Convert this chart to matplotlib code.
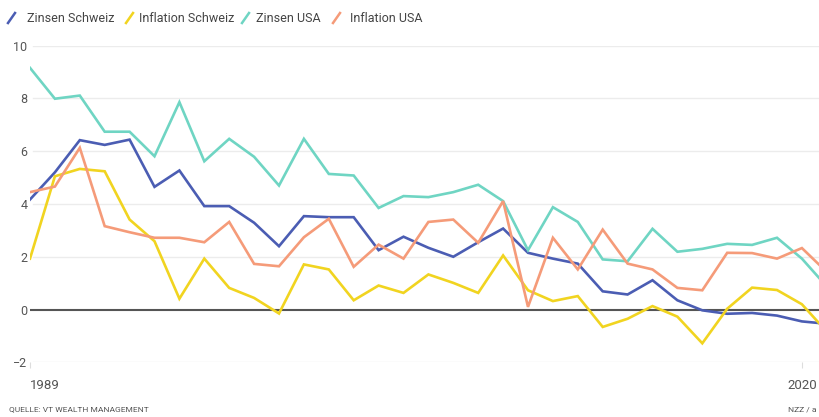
import matplotlib
matplotlib.use("Agg")
import matplotlib.pyplot as plt
from matplotlib.lines import Line2D

plt.rcParams['font.family'] = ['Roboto', 'DejaVu Sans']

years = list(range(1989, 2022))

zinsen_ch = [4.17, 5.2, 6.42, 6.24, 6.44, 4.65, 5.27, 3.92, 3.92, 3.29, 2.40, 3.54, 3.50,
             3.50, 2.25, 2.76, 2.34, 2.00, 2.55, 3.07, 2.15, 1.93, 1.74, 0.69, 0.57,
             1.11, 0.35, -0.03, -0.16, -0.13, -0.23, -0.45, -0.54]
inflation_ch = [1.93, 5.05, 5.33, 5.24, 3.41, 2.59, 0.41, 1.93, 0.82, 0.44, -0.15, 1.71, 1.52,
                0.35, 0.91, 0.63, 1.33, 1.01, 0.63, 2.05, 0.73, 0.32, 0.51, -0.66, -0.35,
                0.13, -0.27, -1.28, 0.03, 0.83, 0.74, 0.20, -0.84]
zinsen_usa = [9.16, 7.99, 8.11, 6.74, 6.74, 5.81, 7.86, 5.62, 6.47, 5.79, 4.70, 6.47, 5.14,
              5.08, 3.85, 4.30, 4.26, 4.45, 4.73, 4.11, 2.25, 3.88, 3.32, 1.90, 1.83,
              3.06, 2.19, 2.30, 2.49, 2.45, 2.72, 1.93, 0.87]
inflation_usa = [4.45, 4.66, 6.13, 3.16, 2.93, 2.72, 2.72, 2.55, 3.32, 1.73, 1.64, 2.74, 3.44,
                 1.62, 2.46, 1.93, 3.32, 3.41, 2.53, 4.11, 0.10, 2.72, 1.52, 3.03, 1.74,
                 1.52, 0.82, 0.73, 2.15, 2.14, 1.93, 2.33, 1.42]

names = ["Zinsen Schweiz", "Inflation Schweiz", "Zinsen USA", "Inflation USA"]
colors = ["#4b5db3", "#f1d420", "#6fd5c3", "#f59b79"]
series = [zinsen_ch, inflation_ch, zinsen_usa, inflation_usa]

fig = plt.figure(figsize=(8.19, 4.17), dpi=100)
ax = fig.add_axes([30 / 819, 1 - 362.3 / 417, 1 - 30 / 819, (362.3 - 45.7) / 417])

for y in [-2, 2, 4, 6, 8, 10]:
    ax.axhline(y, xmin=3 / 789, color="#ececec", lw=1, zorder=0)
ax.axhline(0, color="#555555", lw=1.5, zorder=1)

for vals, c in zip(series, colors):
    ax.plot(years, vals, color=c, lw=1.9, zorder=3, solid_joinstyle="miter")

ax.set_xlim(1989, 1989 + (819 - 30) / 24.9)
ax.set_ylim(-2, 10)
for s in ax.spines.values():
    s.set_visible(False)

ax.set_yticks([-2, 0, 2, 4, 6, 8, 10])
ax.set_yticklabels(["\u22122", "0", "2", "4", "6", "8", "10"])
ax.tick_params(axis="y", length=0, pad=2, labelsize=9, labelcolor="#555555")
ax.set_xticks([1989, 2020])
ax.set_xticklabels(["1989", "2020"])
ax.tick_params(axis="x", length=4, color="#dddddd", pad=8, labelsize=9.5, labelcolor="#555555")
ax.get_xticklabels()[0].set_horizontalalignment("left")

# legend with slash icons
slash_x = [8, 126, 242, 333]
text_x = [27, 139, 256, 350]
for x0, tx, name, c in zip(slash_x, text_x, names, colors):
    fig.add_artist(Line2D([x0 / 819, (x0 + 7) / 819], [1 - 23 / 417, 1 - 13 / 417],
                          color=c, lw=1.8, transform=fig.transFigure))
    fig.text(tx / 819, 1 - 18 / 417, name, fontsize=9, color="#444444",
             va="center", ha="left")

fig.text(9 / 819, 1 - 409 / 417, "QUELLE: VT WEALTH MANAGEMENT", fontsize=6,
         color="#555555", va="center", ha="left")
fig.text(817 / 819, 1 - 409 / 417, "NZZ / a", fontsize=6, color="#555555",
         va="center", ha="right")

fig.savefig("out.png", dpi=100)
